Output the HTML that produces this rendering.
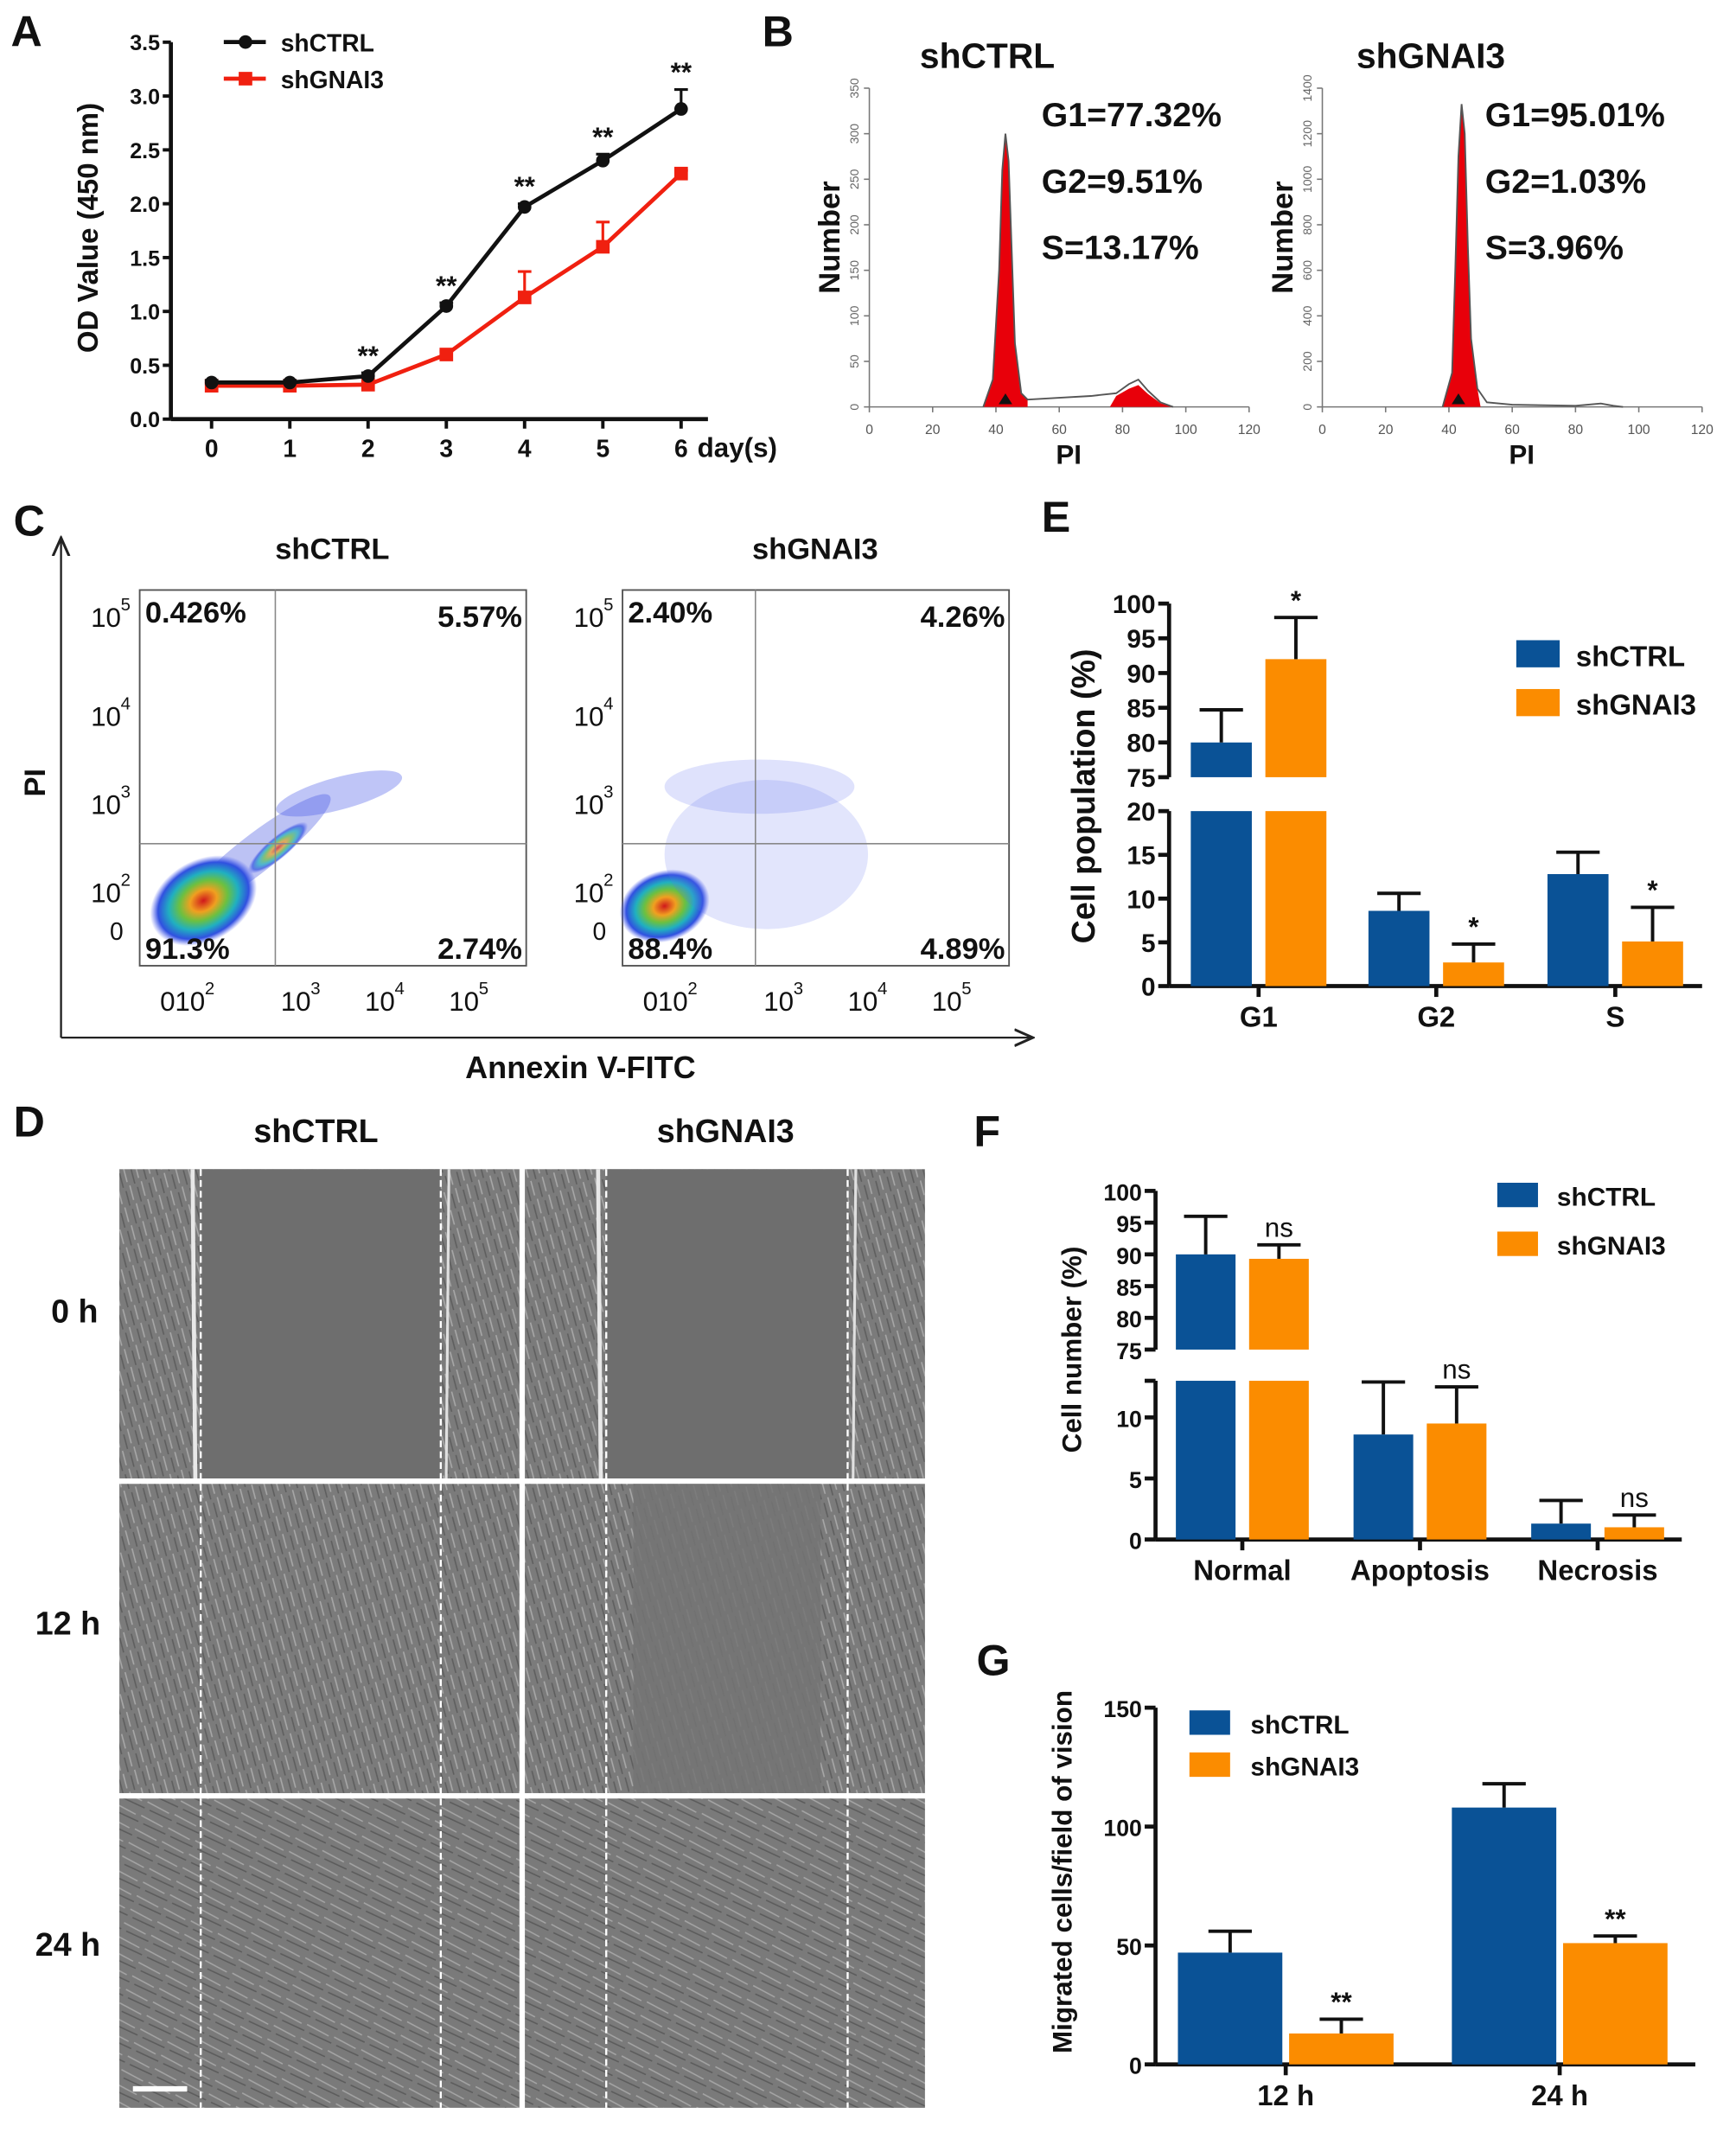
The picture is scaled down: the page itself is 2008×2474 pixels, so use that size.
<!DOCTYPE html>
<html><head><meta charset="utf-8"><style>
html,body{margin:0;padding:0;background:#fff;}
svg{display:block;font-family:"Liberation Sans",Arial,sans-serif;}
</style></head><body>
<svg id="fig" width="2008" height="2474" viewBox="0 0 1280 1577" preserveAspectRatio="none" xmlns="http://www.w3.org/2000/svg">
<defs>
<pattern id="cells" width="14" height="9" patternUnits="userSpaceOnUse" patternTransform="rotate(70)">
<rect width="14" height="9" fill="#7b7b7b"/>
<line x1="0" y1="2" x2="11" y2="3" stroke="#a8a8a8" stroke-width="1"/>
<line x1="3" y1="6" x2="14" y2="7" stroke="#5e5e5e" stroke-width="1"/>
</pattern>
<pattern id="cells2" width="22" height="11" patternUnits="userSpaceOnUse" patternTransform="rotate(25)">
<rect width="22" height="11" fill="#7a7a7a"/>
<line x1="0" y1="3" x2="18" y2="4" stroke="#a5a5a5" stroke-width="1"/>
<line x1="4" y1="8" x2="22" y2="8" stroke="#5c5c5c" stroke-width="1"/>
</pattern>
<radialGradient id="blob" cx="50%" cy="50%" r="50%">
<stop offset="0" stop-color="#d0181c"/><stop offset="0.25" stop-color="#f0a020"/>
<stop offset="0.45" stop-color="#6cc040"/><stop offset="0.65" stop-color="#20b0c0"/>
<stop offset="0.85" stop-color="#3050e0"/><stop offset="1" stop-color="#5060f0" stop-opacity="0"/>
</radialGradient>
<marker id="arr" markerWidth="10" markerHeight="10" refX="8" refY="5" orient="auto"><path d="M0,1 L9,5 L0,9" fill="none" stroke="#222" stroke-width="1.3"/></marker>
</defs>
<g id="root"></g>
</svg>
<script>
// ---------- data ----------
const aDays = [0,1,2,3,4,5,6];
const aCtrl = [0.34,0.34,0.40,1.05,1.97,2.40,2.88];
const aCtrlErr = [0.02,0.02,0.03,0.03,0.03,0.06,0.18];
const aGnai = [0.31,0.31,0.32,0.60,1.13,1.60,2.28];
const aGnaiErr = [0.02,0.02,0.02,0.03,0.24,0.23,0.03];
const aTicks = [0,0.5,1.0,1.5,2.0,2.5,3.0,3.5];
const histCtrlX = [36,39,41,42,43,44,45,46,48,50,60,70,78,82,85,88,92,96];
const histCtrlY = [0,30,150,260,300,270,170,70,15,8,10,12,15,25,30,18,5,0];
const histGnaiX = [38,41,42,43,44,45,46,47,49,52,60,80,88,92,95];
const histGnaiY = [0,150,600,1100,1330,1200,700,300,80,20,10,5,15,5,0];
const eCats = ["G1","G2","S"];
const eCtrl = [80,8.6,12.8];
const eCtrlErr = [4.7,2.0,2.5];
const eGnai = [92,2.7,5.1];
const eGnaiErr = [6,2.1,3.9];
const fCats = ["Normal","Apoptosis","Necrosis"];
const fCtrl = [90,8.6,1.3];
const fCtrlErr = [6,4.3,1.9];
const fGnai = [89.3,9.5,1.0];
const fGnaiErr = [2.2,3.0,1.0];
const gCats = ["12 h","24 h"];
const gCtrl = [47,108];
const gCtrlErr = [9,10];
const gGnai = [13,51];
const gGnaiErr = [6,3];
const gTicks = [0,50,100,150];

const NS="http://www.w3.org/2000/svg";
const root=document.getElementById('root');
function el(tag,attrs,parent,txt){const e=document.createElementNS(NS,tag);for(const k in attrs)e.setAttribute(k,attrs[k]);if(txt!==undefined)e.textContent=txt;(parent||root).appendChild(e);return e;}
function grp(name){const g=el('g',{});return g;}
function txt(g,x,y,s,size,opt){opt=opt||{};const t=el('text',Object.assign({x:x,y:y,'font-size':size,'font-weight':opt.w||'bold','text-anchor':opt.a||'start',fill:opt.fill||'#111'},opt.tr?{transform:opt.tr}:{}),g,s);return t;}
const BLUE="#0a5296", ORANGE="#fb8c00";

// panel letters
const letters=grp('panel-letters');
[["A",8,34],["B",562,34],["C",10,395],["E",768,392],["D",10,838],["F",718,845],["G",720,1235]].forEach(p=>{txt(letters,p[1],p[2],p[0],32,{name:'panel-letter-'+p[0].toLowerCase()});});

// ---------- Panel A ----------
(function(){
const g=grp('panel-a-line-chart');
const X0=126,Y0=309,xd=d=>156+d*57.7,yv=v=>Y0-v*79.4;
el('line',{x1:X0,y1:yv(3.5),x2:X0,y2:Y0,stroke:'#111','stroke-width':3},g);
el('line',{x1:X0,y1:Y0,x2:522,y2:Y0,stroke:'#111','stroke-width':3},g);
aTicks.forEach(t=>{el('line',{x1:X0-6,y1:yv(t),x2:X0,y2:yv(t),stroke:'#111','stroke-width':2.5},g);txt(g,X0-8,yv(t)+6,t.toFixed(1),16,{a:'end',name:'y-tick-label'});});
aDays.forEach(d=>{el('line',{x1:xd(d),y1:Y0,x2:xd(d),y2:Y0+7,stroke:'#111','stroke-width':2.5},g);txt(g,xd(d),Y0+28,String(d),18,{a:'middle',name:'x-tick-label'});});
txt(g,xd(6)+12,Y0+28,"day(s)",20,{name:'x-axis-unit'});
txt(g,72,168,"OD Value (450 nm)",21,{a:'middle',tr:'rotate(-90 72 168)',name:'y-axis-title'});
function series(vals,errs,color,name,sq){
 const sg=grp(name);
 el('polyline',{points:vals.map((v,i)=>xd(aDays[i])+','+yv(v)).join(' '),fill:'none',stroke:color,'stroke-width':3},sg);
 vals.forEach((v,i)=>{const x=xd(aDays[i]);
  el('line',{x1:x,y1:yv(v),x2:x,y2:yv(v+errs[i]),stroke:color,'stroke-width':2},sg);
  el('line',{x1:x-5,y1:yv(v+errs[i]),x2:x+5,y2:yv(v+errs[i]),stroke:color,'stroke-width':2},sg);
  const m=sq?el('rect',{x:x-5,y:yv(v)-5,width:10,height:10,fill:color},sg):el('circle',{cx:x,cy:yv(v),r:5,fill:color},sg);
  });
}
series(aGnai,aGnaiErr,'#f02010','series-shgnai3',true);
series(aCtrl,aCtrlErr,'#111','series-shctrl',false);
aDays.slice(2).forEach(d=>{txt(g,xd(d),yv(aCtrl[d]+aCtrlErr[d])-6,"**",20,{a:'middle',name:'significance-star'});});
const lg=grp('legend-a');
el('line',{x1:165,y1:31,x2:196,y2:31,stroke:'#111','stroke-width':3},lg);el('circle',{cx:181,cy:31,r:5,fill:'#111'},lg);
txt(lg,207,38,"shCTRL",18,{name:'legend-entry'});
el('line',{x1:165,y1:58,x2:196,y2:58,stroke:'#f02010','stroke-width':3},lg);el('rect',{x:176,y:53,width:10,height:10,fill:'#f02010'},lg);
txt(lg,207,65,"shGNAI3",18,{name:'legend-entry'});
})();

// ---------- Panel B ----------
function hist(name,X0,xs,ys,ymax,yticks,title,texts,tx){
 const g=grp(name);const Y0=300,W=280,H=235;
 const xp=v=>X0+v/120*W, yp=v=>Y0-v/ymax*H;
 el('line',{x1:X0,y1:Y0-H,x2:X0,y2:Y0,stroke:'#777','stroke-width':1},g);
 el('line',{x1:X0,y1:Y0,x2:X0+W,y2:Y0,stroke:'#777','stroke-width':1},g);
 yticks.forEach(t=>{el('line',{x1:X0-4,y1:yp(t),x2:X0,y2:yp(t),stroke:'#777'},g);txt(g,X0-8,yp(t),String(t),9,{a:'middle',w:'normal',fill:'#666',tr:`rotate(-90 ${X0-8} ${yp(t)})`,name:'y-tick-label'});});
 [0,20,40,60,80,100,120].forEach(t=>{el('line',{x1:xp(t),y1:Y0,x2:xp(t),y2:Y0+4,stroke:'#777'},g);txt(g,xp(t),Y0+20,String(t),10,{a:'middle',w:'normal',fill:'#555',name:'x-tick-label'});});
 const pts=xs.map((x,i)=>xp(x)+','+yp(ys[i]));
 const g1=xs.map((x,i)=>[x,ys[i]]).filter(p=>p[0]<=50);
 el('polygon',{points:g1.map(p=>xp(p[0])+','+yp(p[1])).join(' ')+' '+xp(50)+','+Y0,fill:'#e8000a'},g);
 const g2=xs.map((x,i)=>[x,ys[i]]).filter(p=>p[0]>=76);
 el('polygon',{points:xp(76)+','+Y0+' '+g2.map(p=>xp(p[0])+','+yp(p[1]*(name.includes('ctrl')?0.8:0))).join(' '),fill:'#e8000a'},g);
 el('polyline',{points:pts.join(' '),fill:'none',stroke:'#555','stroke-width':1.2},g);
 el('polygon',{points:`${xp(43)-5},${Y0-2} ${xp(43)+5},${Y0-2} ${xp(43)},${Y0-10}`,fill:'#111'},g);
 txt(g,X0-22,Y0-125,"Number",22,{a:'middle',tr:`rotate(-90 ${X0-22} ${Y0-125})`,name:'y-axis-title'});
 txt(g,xp(63),Y0+42,"PI",20,{a:'middle',name:'x-axis-title'});
 txt(g,tx[0],50,title,26,{a:'middle',name:'histogram-title'});
 texts.forEach((s,i)=>txt(g,tx[1],93+i*49,s,25,{name:'phase-percentage'}));
}
hist('panel-b-hist-shctrl',641,histCtrlX,histCtrlY,350,[0,50,100,150,200,250,300,350],"shCTRL",["G1=77.32%","G2=9.51%","S=13.17%"],[728,768]);
hist('panel-b-hist-shgnai3',975,histGnaiX,histGnaiY,1400,[0,200,400,600,800,1000,1200,1400],"shGNAI3",["G1=95.01%","G2=1.03%","S=3.96%"],[1055,1095]);

// ---------- Panel C ----------
(function(){
const g=grp('panel-c-flow-cytometry');
el('line',{x1:45,y1:765,x2:45,y2:398,stroke:'#222','stroke-width':1.5,'marker-end':'url(#arr)'},g);
el('line',{x1:45,y1:765,x2:760,y2:765,stroke:'#222','stroke-width':1.5,'marker-end':'url(#arr)'},g);
txt(g,33,577,"PI",22,{a:'middle',tr:'rotate(-90 33 577)',name:'y-axis-title'});
txt(g,428,795,"Annexin V-FITC",23,{a:'middle',name:'x-axis-title'});
function plot(x0,qx,title,q,blobs){
 const pg=grp('dot-plot-'+title.toLowerCase());
 el('rect',{x:x0,y:435,width:285,height:277,fill:'#fff',stroke:'#555','stroke-width':1.2},pg);
 blobs.forEach(b=>{el('ellipse',{cx:b[0],cy:b[1],rx:b[2],ry:b[3],fill:b[5]||'url(#blob)',opacity:b[6]||1,transform:`rotate(${b[4]} ${b[0]} ${b[1]})`},pg);});
 el('line',{x1:qx,y1:435,x2:qx,y2:712,stroke:'#888'},pg);el('line',{x1:x0,y1:622,x2:x0+285,y2:622,stroke:'#888'},pg);
 txt(pg,x0+142,412,title,22,{a:'middle',name:'plot-title'});
 txt(pg,x0+4,459,q[0],22,{name:'quadrant-ul'});txt(pg,x0+282,462,q[1],22,{a:'end',name:'quadrant-ur'});
 txt(pg,x0+4,707,q[2],22,{name:'quadrant-ll'});txt(pg,x0+282,707,q[3],22,{a:'end',name:'quadrant-lr'});
 [["5",462],["4",535],["3",600],["2",665]].forEach(e=>{txt(pg,x0-36,e[1],"10",20,{w:'normal',name:'y-tick-label'});txt(pg,x0-14,e[1]-12,e[0],13,{w:'normal',name:'y-tick-exp'});});
 txt(pg,x0-22,693,"0",18,{w:'normal',name:'y-tick-label'});
 txt(pg,x0+15,745,"0",20,{w:'normal',name:'x-tick-label'});
 [["2",x0+26],["3",x0+104],["4",x0+166],["5",x0+228]].forEach(e=>{txt(pg,e[1],745,"10",20,{w:'normal',name:'x-tick-label'});txt(pg,e[1]+22,733,e[0],13,{w:'normal',name:'x-tick-exp'});});
}
plot(103,203,"shCTRL",["0.426%","5.57%","91.3%","2.74%"],[[188,630,70,14,-38,'#4050e0',0.35],[150,664,42,30,-30],[250,585,48,12,-15,'#4858e8',0.35],[205,625,28,8,-40,'url(#blob)',0.7]]);
plot(459,557,"shGNAI3",["2.40%","4.26%","88.4%","4.89%"],[[490,668,34,26,-20],[565,630,75,55,0,'#6070f0',0.18],[560,580,70,20,0,'#6070f0',0.2]]);
})();

// ---------- Panel D ----------
(function(){
const g=grp('panel-d-wound-healing');
txt(g,233,842,"shCTRL",24,{a:'middle',name:'column-title'});txt(g,535,842,"shGNAI3",24,{a:'middle',name:'column-title'});
const rows=[[862,"0 h",55,975],[1094,"12 h",50,1205],[1326,"24 h",50,1442]];
rows.forEach((r,ri)=>{txt(g,r[2],r[3],r[1],24,{a:'middle',name:'row-label'});
 [[88,148,325],[387,447,625]].forEach(c=>{
  const im=el('g',{},g);
  el('rect',{x:c[0],y:r[0],width:295,height:228,fill:ri===2?'url(#cells2)':'url(#cells)'},im);
  if(ri===0){el('rect',{x:c[1],y:r[0],width:c[2]-c[1],height:228,fill:'#6e6e6e'},im);
   el('line',{x1:c[1]-6,y1:r[0],x2:c[1]-4,y2:r[0]+228,stroke:'#e8e8e8','stroke-width':3},im);el('line',{x1:c[2]+6,y1:r[0],x2:c[2]+4,y2:r[0]+228,stroke:'#e0e0e0','stroke-width':2},im);}
  else if(ri===1&&c[0]===387){el('rect',{x:c[1]+20,y:r[0],width:c[2]-c[1]-40,height:228,fill:'#747474',opacity:0.85},im);}
  el('line',{x1:c[1],y1:r[0],x2:c[1],y2:r[0]+228,stroke:'#fff','stroke-width':1.5,'stroke-dasharray':'5,3'},im);
  el('line',{x1:c[2],y1:r[0],x2:c[2],y2:r[0]+228,stroke:'#fff','stroke-width':1.5,'stroke-dasharray':'5,3'},im);
 });});
el('line',{x1:98,y1:1540,x2:138,y2:1540,stroke:'#fff','stroke-width':4},g);
})();

// ---------- bar chart helper ----------
function bars(name,cfg){
 const g=grp(name);const {X0,X1,Y0,cats,ctrl,ce,gn,ge,seg,centers,bw,stars}=cfg;
 function yv(v){for(const s of seg){if(v>=s.lo&&v<=s.hi+0.001)return s.y0-(v-s.lo)*(s.y0-s.y1)/(s.hi-s.lo);}const s=seg[seg.length-1];return s.y1;}
 seg.forEach(s=>{el('line',{x1:X0,y1:s.y0,x2:X0,y2:s.y1,stroke:'#111','stroke-width':3},g);
  s.ticks.forEach(t=>{el('line',{x1:X0-8,y1:yv(t),x2:X0,y2:yv(t),stroke:'#111','stroke-width':3},g);txt(g,X0-10,yv(t)+7,String(t),cfg.tfs||19,{a:'end',name:'y-tick-label'});});
  if(s.capTop)el('line',{x1:X0-8,y1:s.y1,x2:X0,y2:s.y1,stroke:'#111','stroke-width':3},g);
 });
 el('line',{x1:X0,y1:Y0,x2:X1,y2:Y0,stroke:'#111','stroke-width':3},g);
 cats.forEach((c,i)=>{const cx=centers[i];el('line',{x1:cx,y1:Y0,x2:cx,y2:Y0+8,stroke:'#111','stroke-width':3},g);txt(g,cx,Y0+30,c,21,{a:'middle',name:'x-tick-label'});
  [[ctrl,ce,BLUE,-1,'bar-shctrl'],[gn,ge,ORANGE,1,'bar-shgnai3']].forEach(sr=>{
   const v=sr[0][i],e=sr[1][i];const x=cx+(sr[3]<0?-bw-cfg.gap/2:cfg.gap/2);
   seg.forEach(s=>{if(v>s.lo){const top=Math.min(v,s.hi);const r=el('rect',{x:x,y:yv(top),width:bw,height:s.y0-yv(top),fill:sr[2]},g);}});
   const xm=x+bw/2;el('line',{x1:xm,y1:yv(v),x2:xm,y2:yv(v+e),stroke:'#111','stroke-width':2.5},g);
   el('line',{x1:xm-16,y1:yv(v+e),x2:xm+16,y2:yv(v+e),stroke:'#111','stroke-width':2.5},g);
   if(sr[3]>0&&stars[i])txt(g,xm,yv(v+e)-6,stars[i],cfg.sfs||20,{a:'middle',w:stars[i]==='ns'?'normal':'bold',name:'significance-label'});
  });});
 const L=cfg.legend;const lg=grp('legend-'+name);
 el('rect',{x:L.x,y:L.y,width:L.w,height:L.h,fill:BLUE},lg);
 txt(lg,L.tx,L.y+L.h-1,"shCTRL",L.fs,{name:'legend-entry'});
 el('rect',{x:L.x,y:L.y+L.dy,width:L.w,height:L.h,fill:ORANGE},lg);
 txt(lg,L.tx,L.y+L.dy+L.h-1,"shGNAI3",L.fs,{name:'legend-entry'});
 txt(g,cfg.yl[0],cfg.yl[1],cfg.ylabel,cfg.ylfs||23,{a:'middle',tr:`rotate(-90 ${cfg.yl[0]} ${cfg.yl[1]})`,name:'y-axis-title'});
}
bars('panel-e-cell-cycle',{X0:862,X1:1255,Y0:727,cats:eCats,ctrl:eCtrl,ce:eCtrlErr,gn:eGnai,ge:eGnaiErr,
 seg:[{lo:0,hi:20,y0:727,y1:598,ticks:[0,5,10,15,20]},{lo:75,hi:100,y0:573,y1:445,ticks:[75,80,85,90,95,100]}],
 centers:[928,1059,1191],bw:45,gap:10,stars:["*","*","*"],
 legend:{x:1118,y:472,w:32,h:20,dy:36,tx:1162,fs:21},yl:[807,587],ylabel:"Cell population (%)",ylfs:24});
bars('panel-f-apoptosis',{X0:852,X1:1240,Y0:1135,cats:fCats,ctrl:fCtrl,ce:fCtrlErr,gn:fGnai,ge:fGnaiErr,
 seg:[{lo:0,hi:13,y0:1135,y1:1018,ticks:[0,5,10],capTop:true},{lo:75,hi:100,y0:995,y1:878,ticks:[75,80,85,90,95,100]}],
 centers:[916,1047,1178],bw:44,gap:10,stars:["ns","ns","ns"],tfs:17,
 legend:{x:1104,y:872,w:30,h:18,dy:36,tx:1148,fs:19},yl:[797,995],ylabel:"Cell number (%)",ylfs:20});
bars('panel-g-migration',{X0:852,X1:1250,Y0:1522,cats:gCats,ctrl:gCtrl,ce:gCtrlErr,gn:gGnai,ge:gGnaiErr,
 seg:[{lo:0,hi:150,y0:1522,y1:1259,ticks:gTicks}],
 centers:[948,1150],bw:77,gap:5,stars:["**","**"],tfs:17,
 legend:{x:877,y:1261,w:30,h:18,dy:31,tx:922,fs:19},yl:[790,1380],ylabel:"Migrated cells/field of vision",ylfs:20});
</script>
</body></html>
